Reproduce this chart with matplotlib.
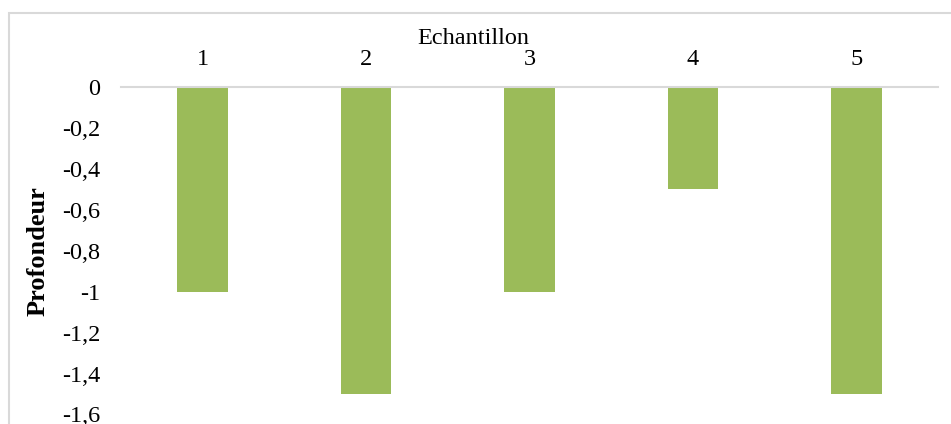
import matplotlib.pyplot as plt
from matplotlib.patches import Rectangle
from matplotlib.ticker import FuncFormatter

# Données
echantillons = ['1', '2', '3', '4', '5']
profondeur = [-1.0, -1.5, -1.0, -0.5, -1.5]
yticks = [0, -0.2, -0.4, -0.6, -0.8, -1.0, -1.2, -1.4, -1.6]

plt.rcParams['font.family'] = ['Liberation Serif', 'DejaVu Serif']

W, H = 951, 424
fig = plt.figure(figsize=(W / 100, H / 100), dpi=100)

# cadre gris du graphique (coupé à droite et en bas)
fig.patches.append(Rectangle((8.5 / W, -0.1), 1.2, 1 - 13.5 / H + 0.1,
                             transform=fig.transFigure, fill=False,
                             edgecolor='#D9D9D9', linewidth=1.5))

ax = fig.add_axes([121 / W, 1 - 414.5 / H, (938 - 121) / W, (414.5 - 87) / H])
x = range(1, len(echantillons) + 1)
ax.bar(x, profondeur, width=0.31, color='#9BBB59')

ax.set_xlim(0.5, 5.5)
ax.set_ylim(-1.6, 0)
ax.set_xticks(list(x))
ax.set_xticklabels(echantillons)
ax.xaxis.tick_top()
ax.set_yticks(yticks)
ax.yaxis.set_major_formatter(FuncFormatter(lambda v, p: ('%g' % round(v, 1)).replace('.', ',')))
ax.tick_params(axis='both', length=0, labelsize=17.5)
ax.tick_params(axis='y', pad=15)
ax.tick_params(axis='x', pad=12)

for s in ['left', 'right', 'bottom']:
    ax.spines[s].set_visible(False)
ax.spines['top'].set_color('#D9D9D9')
ax.spines['top'].set_linewidth(1.5)

fig.text(473 / W, 1 - 38 / H, 'Echantillon', ha='center', va='center', fontsize=17.5)
fig.text(38 / W, 1 - 251 / H, 'Profondeur', ha='center', va='center',
         rotation=90, fontsize=19, fontweight='bold')

fig.savefig('out.png', dpi=100)
